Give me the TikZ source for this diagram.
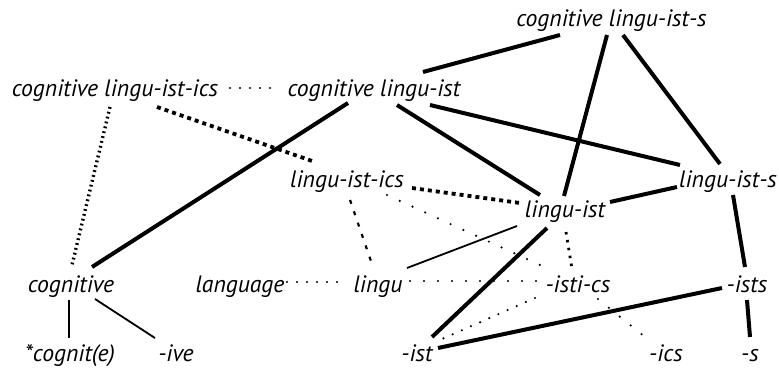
\documentclass[tikz,border=0pt]{standalone}
\usepackage{fontspec}
\setmainfont{PT Sans}
\usetikzlibrary{calc}
\tikzset{
  lbl/.style={font=\itshape\fontsize{23.7}{28}\selectfont, inner sep=0pt, anchor=base},
  heavy/.style={line width=4pt},
  light/.style={line width=1.8pt},
  dotline/.style={line width=2.4pt, line cap=round, dash pattern=on 0pt off 10pt},
  widedots/.style={line width=2.4pt, line cap=round, dash pattern=on 0pt off 14pt},
  dashline/.style={line width=2.2pt, dash pattern=on 4pt off 8pt},
  stubline/.style={line width=2.8pt, dash pattern=on 2.5pt off 5.5pt},
  heavydash/.style={line width=3.8pt, dash pattern=on 4pt off 4pt},
  hatchline/.style={line width=3.4pt, dash pattern=on 1.8pt off 3.2pt},
}
\begin{document}
\begin{tikzpicture}[x=1pt,y=-1pt]
\useasboundingbox (0,0) rectangle (779,369);

% word forms
\node[lbl] (cls)   at (611.5,27) {cognitive lingu-ist-s};
\node[lbl] (clics) at (115,96)   {cognitive lingu-ist-ics};
\node[lbl] (cli)   at (374,96)   {cognitive lingu-ist};
\node[lbl] (lics)  at (347,187)  {lingu-ist-ics};
\node[lbl] (li)    at (565,217)  {lingu-ist};
\node[lbl] (lis)   at (728,187)  {lingu-ist-s};
\node[lbl] (cog)   at (71,292)   {cognitive};
\node[lbl] (lang)  at (240,292)  {language};
\node[lbl] (lingu) at (378,292)  {lingu};
\node[lbl] (isti)  at (578,292)  {-isti-cs};
\node[lbl] (ists)  at (747,292)  {-ists};
\node[lbl] (cogn)  at (70,361)   {*cognit(e)};
\node[lbl] (ive)   at (176,361)  {-ive};
\node[lbl] (ist)   at (417,361)  {-ist};
\node[lbl] (ics)   at (666,361)  {-ics};
\node[lbl] (s)     at (750,361)  {-s};

% heavy links
\draw[heavy] ($(cls.base)+(-51.5,8)$) -- ($(cli.base)+(49,-24)$);
\draw[heavy] ($(cls.base)+(-4.5,8)$)  -- ($(li.base)+(-1,-21)$);
\draw[heavy] ($(cls.base)+(11.5,8)$)  -- ($(lis.base)+(-8,-23)$);
\draw[heavy] ($(cli.base)+(23,9)$)    -- ($(li.base)+(-25,-22)$);
\draw[heavy] ($(cli.base)+(56,9)$)    -- ($(lis.base)+(-48,-22)$);
\draw[heavy] ($(cli.base)+(-26,7)$)   -- ($(cog.base)+(21,-25)$);
\draw[heavy] ($(li.base)+(45,-15)$)   -- ($(lis.base)+(-51,0)$);
\draw[heavy] ($(lis.base)+(5,8)$)     -- ($(ists.base)+(-2,-25)$);
\draw[heavy] ($(ists.base)+(0,8)$)    -- ($(s.base)+(0,-24)$);
\draw[heavy] ($(ist.base)+(21,-13)$)  -- ($(ists.base)+(-25,-4)$);
\draw[heavy] ($(li.base)+(-18,11)$)   -- ($(ist.base)+(15,-24)$);

% light links
\draw[light] ($(lingu.base)+(29,-24)$) -- ($(li.base)+(-48,9)$);
\draw[light] ($(cog.base)+(-2,8)$)     -- ($(cogn.base)+(-1,-23)$);
\draw[light] ($(cog.base)+(24,7)$)     -- ($(ive.base)+(-21,-23)$);

% dotted links
\draw[dotline]  ($(clics.base)+(115,-8)$) -- ($(cli.base)+(-96,-8)$);
\draw[dotline]  ($(lang.base)+(47,-10)$)  -- ($(lingu.base)+(-40,-10)$);
\draw[widedots] ($(lingu.base)+(32,-11)$) -- ($(isti.base)+(-38,-11)$);
\draw[widedots] ($(lics.base)+(40,8)$)    -- ($(isti.base)+(-38,-27)$);
\draw[stubline] ($(li.base)+(1,15)$)      -- ($(isti.base)+(-6,-23)$);
\draw[dotline]  ($(isti.base)+(-43,6)$)   -- ($(ist.base)+(25,-22)$);
\draw[widedots] ($(isti.base)+(20,7)$)    -- ($(ics.base)+(-21,-24)$);

% dashed links
\draw[dashline]  ($(lics.base)+(3,13)$)    -- ($(lingu.base)+(-5,-25)$);
\draw[heavydash] ($(clics.base)+(42,11)$)  -- ($(lics.base)+(-32,-25)$);
\draw[heavydash] ($(lics.base)+(65,1)$)    -- ($(li.base)+(-45,-14)$);
\draw[hatchline] ($(clics.base)+(-5,11)$)  -- ($(cog.base)+(1,-27)$);
\end{tikzpicture}
\end{document}
